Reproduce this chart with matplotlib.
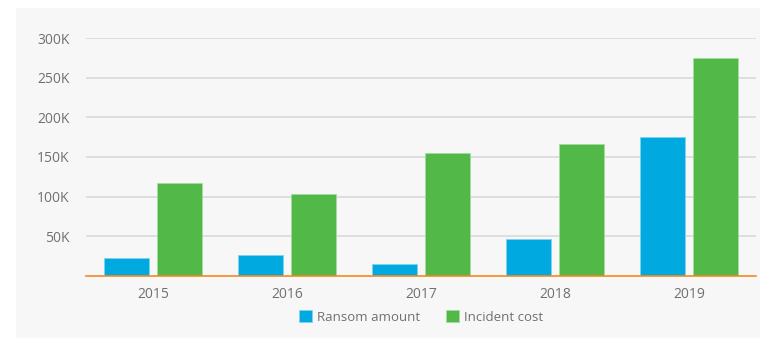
import numpy as np
import matplotlib.pyplot as plt
from matplotlib.patches import Rectangle
from matplotlib.ticker import FuncFormatter

years = ["2015", "2016", "2017", "2018", "2019"]
ransom = [23000, 26000, 15000, 47000, 175000]
incident = [117000, 103000, 155000, 166000, 275000]

plt.rcParams["font.family"] = ["Open Sans", "DejaVu Sans"]

fig = plt.figure(figsize=(7.63, 3.42), dpi=100)
# grey panel behind the chart
fig.patches.append(Rectangle((16 / 763, 4 / 342), 744 / 763, 330 / 342,
                             transform=fig.transFigure, facecolor="#f7f7f7",
                             edgecolor="none", zorder=-10))

ax = fig.add_axes([86 / 763, 1 - 276 / 342, 670 / 763, 238 / 342])
ax.set_facecolor("none")

x = np.arange(len(years))
w = 0.335
ax.bar(x - 0.2, ransom, w, color="#00a9e0", edgecolor="#7fd3ef", linewidth=0.6,
       label="Ransom amount", zorder=3)
ax.bar(x + 0.2, incident, w, color="#52b848", edgecolor="#a5db9f", linewidth=0.6,
       label="Incident cost", zorder=3)

ax.set_xlim(-0.5, 4.5)
ax.set_ylim(0, 300000)
ax.set_yticks([50000, 100000, 150000, 200000, 250000, 300000])
ax.yaxis.set_major_formatter(FuncFormatter(lambda v, p: f"{int(v / 1000)}K"))
ax.set_xticks(x)
ax.set_xticklabels(years)
ax.grid(axis="y", color="#d9d9d9", linewidth=1.2, zorder=0)
ax.set_axisbelow(True)

for s in ["top", "right", "left"]:
    ax.spines[s].set_visible(False)
ax.spines["bottom"].set_color("#f58a1f")
ax.spines["bottom"].set_linewidth(1.2)
ax.spines["bottom"].set_zorder(4)

ax.tick_params(axis="both", length=0, labelsize=10, colors="#707070")
ax.tick_params(axis="y", pad=12)
ax.tick_params(axis="x", pad=8)

leg = ax.legend(loc="upper center", bbox_to_anchor=(0.5, -0.095), ncol=2,
                frameon=False, fontsize=9.5, handlelength=1.0, handleheight=1.0,
                handletextpad=0.4, columnspacing=1.9)
for t in leg.get_texts():
    t.set_color("#707070")

fig.savefig("out.png", dpi=100, facecolor="white")
